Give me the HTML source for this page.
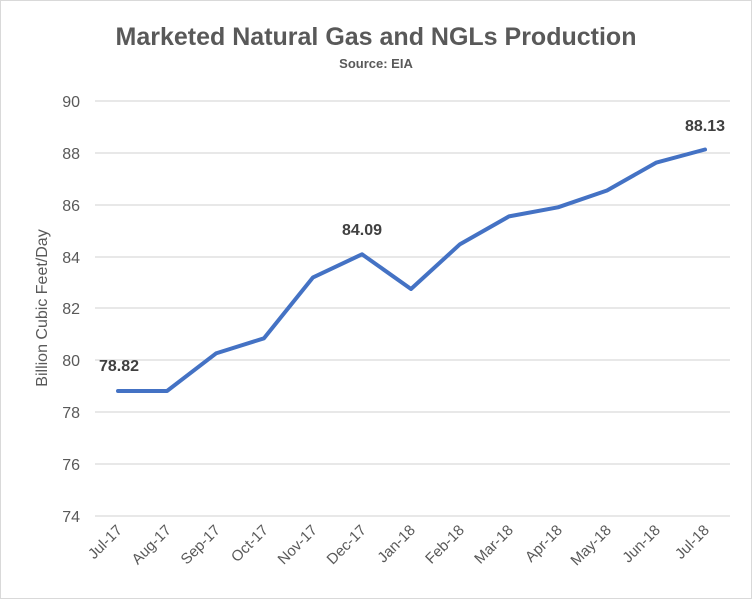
<!DOCTYPE html>
<html><head><style>
body{margin:0;background:#fff}
svg{display:block;font-family:"Liberation Sans",Calibri,sans-serif}
</style></head><body>
<svg width="752" height="599" viewBox="0 0 752 599">
<rect x="0.5" y="0.5" width="751" height="598" fill="#fff" stroke="#d9d9d9"/>
<text x="376" y="45" text-anchor="middle" font-size="25" fill="#595959" font-weight="bold">Marketed Natural Gas and NGLs Production</text>
<text x="376" y="68" text-anchor="middle" font-size="13" fill="#595959" font-weight="bold">Source: EIA</text>
<g stroke="#d9d9d9" stroke-width="1.3">
<line x1="95" x2="730" y1="101" y2="101"/><line x1="95" x2="730" y1="153" y2="153"/>
<line x1="95" x2="730" y1="205" y2="205"/><line x1="95" x2="730" y1="257" y2="257"/>
<line x1="95" x2="730" y1="308" y2="308"/><line x1="95" x2="730" y1="360" y2="360"/>
<line x1="95" x2="730" y1="412" y2="412"/><line x1="95" x2="730" y1="464" y2="464"/>
<line x1="95" x2="730" y1="516" y2="516"/>
</g>
<g font-size="16" fill="#595959" text-anchor="end">
<text x="80" y="107">90</text><text x="80" y="159">88</text><text x="80" y="211">86</text>
<text x="80" y="263">84</text><text x="80" y="314">82</text><text x="80" y="366">80</text>
<text x="80" y="418">78</text><text x="80" y="470">76</text><text x="80" y="522">74</text>
</g>
<text transform="translate(47,308) rotate(-90)" text-anchor="middle" font-size="16" fill="#595959">Billion Cubic Feet/Day</text>
<polyline fill="none" stroke="#4472c4" stroke-width="4" stroke-linejoin="round" stroke-linecap="round"
points="118,391 167,391 216,353.4 264,338.3 313,277.4 362,254.3 411,289 460,244.2 509,216.4 558,207.3 607,190.5 656,162.7 705,149.5"/>
<g font-size="16" font-weight="bold" fill="#404040" text-anchor="middle">
<text x="119" y="371">78.82</text><text x="362" y="235">84.09</text><text x="705" y="131">88.13</text>
</g>
<g font-size="15" fill="#595959" text-anchor="end">
<text transform="translate(123,531) rotate(-45)">Jul-17</text>
<text transform="translate(172,531) rotate(-45)">Aug-17</text>
<text transform="translate(221,531) rotate(-45)">Sep-17</text>
<text transform="translate(269,531) rotate(-45)">Oct-17</text>
<text transform="translate(318,531) rotate(-45)">Nov-17</text>
<text transform="translate(367,531) rotate(-45)">Dec-17</text>
<text transform="translate(416,531) rotate(-45)">Jan-18</text>
<text transform="translate(465,531) rotate(-45)">Feb-18</text>
<text transform="translate(514,531) rotate(-45)">Mar-18</text>
<text transform="translate(563,531) rotate(-45)">Apr-18</text>
<text transform="translate(612,531) rotate(-45)">May-18</text>
<text transform="translate(661,531) rotate(-45)">Jun-18</text>
<text transform="translate(710,531) rotate(-45)">Jul-18</text>
</g>
</svg>
</body></html>
